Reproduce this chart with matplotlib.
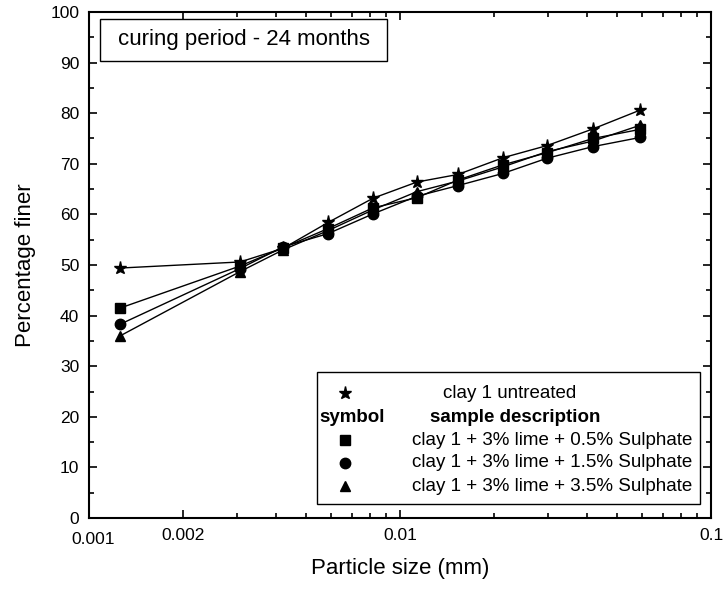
import matplotlib
matplotlib.use("Agg")
import matplotlib.pyplot as plt
import matplotlib.transforms as mtransforms
from matplotlib.ticker import FixedLocator, FixedFormatter, MultipleLocator
from matplotlib.patches import Rectangle

plt.rcParams['font.family'] = ['Liberation Sans', 'DejaVu Sans']

# ---- data ----
particle_size = [0.00126, 0.00306, 0.00421, 0.00587, 0.00819, 0.01134,
                 0.01537, 0.02144, 0.0297, 0.04175, 0.0591]
untreated = [49.4, 50.6, 53.3, 58.4, 63.2, 66.4, 67.9, 71.2, 73.6, 76.9, 80.6]
sulph_05 = [41.5, 49.8, 53.4, 57.2, 61.3, 63.3, 66.8, 69.8, 72.2, 75.0, 76.8]
sulph_15 = [38.3, 49.3, 53.6, 56.2, 60.1, 63.6, 65.7, 68.1, 71.1, 73.4, 75.2]
sulph_35 = [36.0, 48.7, 53.0, 56.8, 60.9, 64.5, 66.6, 69.4, 72.4, 74.5, 77.6]

labels = ["clay 1 untreated",
          "clay 1 + 3% lime + 0.5% Sulphate",
          "clay 1 + 3% lime + 1.5% Sulphate",
          "clay 1 + 3% lime + 3.5% Sulphate"]
x_major_ticks = [0.001, 0.002, 0.01, 0.1]
x_major_labels = ["0.001", "0.002", "0.01", "0.1"]
x_minor_ticks = [0.003, 0.004, 0.005, 0.006, 0.007, 0.008, 0.009,
                 0.02, 0.03, 0.04, 0.05, 0.06, 0.07, 0.08, 0.09]

fig = plt.figure(figsize=(7.24, 5.89), dpi=100)
ax = fig.add_axes([89/724, 71/589, 622/724, 506/589])

series = [(untreated, '*', 9.5), (sulph_05, 's', 6.5),
          (sulph_15, 'o', 7.5), (sulph_35, '^', 7.5)]
for ys, mk, ms in series:
    ax.plot(particle_size, ys, color='black', lw=1.0, marker=mk, ms=ms,
            mfc='black', mec='black')

ax.set_xscale('log')
ax.set_xlim(0.001, 0.1)
ax.set_ylim(0, 100)
ax.xaxis.set_major_locator(FixedLocator(x_major_ticks))
ax.xaxis.set_major_formatter(FixedFormatter(x_major_labels))
ax.xaxis.set_minor_locator(FixedLocator(x_minor_ticks))
ax.xaxis.set_minor_formatter(FixedFormatter([]))
ax.yaxis.set_major_locator(MultipleLocator(10))
ax.yaxis.set_minor_locator(MultipleLocator(5))

for s in ax.spines.values():
    s.set_linewidth(1.5)
ax.tick_params(which='both', direction='in', top=True, right=True, width=1.2,
               labelsize=12.5)
ax.tick_params(which='major', length=6, pad=7)
ax.tick_params(which='minor', length=3.5)

ax.set_xlabel("Particle size (mm)", fontsize=16, labelpad=8)
ax.set_ylabel("Percentage finer", fontsize=16, labelpad=10)

# first x tick label sits slightly right and lower in the original
fig.canvas.draw()
lbl0 = ax.get_xticklabels()[0]
lbl0.set_transform(lbl0.get_transform() +
                   mtransforms.ScaledTranslation(4/100, -4/100, fig.dpi_scale_trans))

# title box
ttl = ax.text(0.0466, 0.9447, "curing period - 24 months", transform=ax.transAxes,
              fontsize=16, ha='left', va='center', zorder=6)
fig.canvas.draw()
bb = ttl.get_window_extent().transformed(ax.transAxes.inverted())
ax.add_patch(Rectangle((0.0177, 0.903), (bb.x1 + 0.027) - 0.0177, 0.083,
                       transform=ax.transAxes, fc='white', ec='black', lw=1.0,
                       zorder=5))

# custom legend
ax.add_patch(Rectangle((0.3666, 0.0277), 0.6157, 0.2608, transform=ax.transAxes,
                       fill=False, ec='black', lw=1.0, zorder=5))
rows_y = [0.247, 0.1996, 0.154, 0.1087, 0.0632]
sym_x = 0.4116
ax.plot([sym_x], [rows_y[0]], marker='*', ms=9.5, color='black',
        transform=ax.transAxes, clip_on=False)
ax.text(0.677, rows_y[0], labels[0], transform=ax.transAxes, fontsize=13.5,
        ha='center', va='center')
ax.text(0.4228, rows_y[1], "symbol", transform=ax.transAxes, fontsize=13.5,
        ha='center', va='center', fontweight='bold')
ax.text(0.685, rows_y[1], "sample description", transform=ax.transAxes,
        fontsize=13.5, ha='center', va='center', fontweight='bold')
for (mk, ms), yy, lab in zip([('s', 6.5), ('o', 7.5), ('^', 7.5)],
                             rows_y[2:], labels[1:]):
    ax.plot([sym_x], [yy], marker=mk, ms=ms, color='black',
            transform=ax.transAxes, clip_on=False)
    ax.text(0.519, yy, lab, transform=ax.transAxes, fontsize=13.5,
            ha='left', va='center')

fig.savefig("out.png", dpi=100)
